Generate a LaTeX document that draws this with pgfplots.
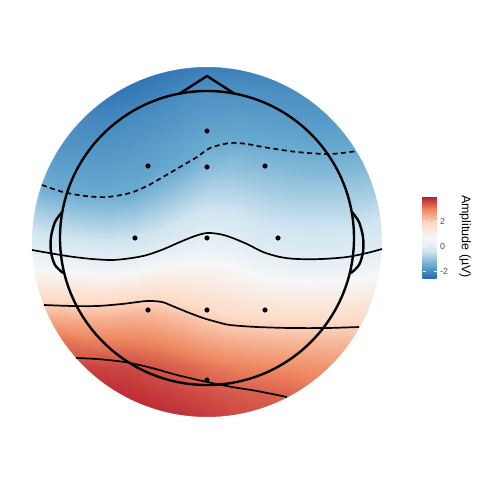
\documentclass[border=0pt]{standalone}
\usepackage{fontspec}
\setmainfont{Liberation Sans}
\usepackage{pgfplots}
\pgfplotsset{compat=1.18}
\begin{document}
\begin{tikzpicture}
\begin{axis}[name=main, at={(0,0)}, anchor=south west, scale only axis,
  width=350pt, height=350pt, xmin=-175, xmax=175, ymin=-175, ymax=175,
  hide axis, clip=true,
  colormap={rdbu}{rgb255=(33,102,172) rgb255=(103,169,207) rgb255=(209,229,240) rgb255=(247,247,247) rgb255=(253,219,199) rgb255=(239,138,98) rgb255=(178,24,43)},
  point meta min=-2.64, point meta max=4.0,
  colorbar,
  colorbar style={at={(parent axis.south east)}, anchor=south west, xshift=32pt, yshift=138pt,
    scale only axis, width=14pt, height=83pt,
    ytick={-2,0,2}, ytick pos=both, yticklabel pos=right, tick align=inside,
    major tick length=3pt, tick style={draw=white, line width=0.7pt},
    axis line style={draw=none},
    yticklabel style={font=\fontsize{8.8}{10}\selectfont, text=black!70},
    /pgf/number format/assume math mode=true},
]
\addplot[surf, shader=interp, mesh/cols=15, point meta=explicit] table[row sep=\\, x=x, y=y, meta=v] {
x y v\\
-175 175 -2.50\\ -150 175 -2.55\\ -125 175 -2.55\\ -100 175 -2.55\\ -75 175 -2.50\\ -50 175 -2.42\\ -25 175 -2.32\\ 0 175 -2.22\\ 25 175 -2.22\\ 50 175 -2.23\\ 75 175 -2.24\\ 100 175 -2.25\\ 125 175 -2.25\\ 150 175 -2.25\\ 175 175 -2.25\\
-175 150 -2.30\\ -150 150 -2.38\\ -125 150 -2.40\\ -100 150 -2.38\\ -75 150 -2.30\\ -50 150 -2.18\\ -25 150 -2.04\\ 0 150 -1.92\\ 25 150 -1.92\\ 50 150 -1.93\\ 75 150 -1.96\\ 100 150 -2.00\\ 125 150 -2.00\\ 150 150 -2.00\\ 175 150 -2.00\\
-175 125 -2.01\\ -150 125 -2.08\\ -125 125 -2.10\\ -100 125 -2.09\\ -75 125 -2.03\\ -50 125 -1.94\\ -25 125 -1.84\\ 0 125 -1.74\\ 25 125 -1.72\\ 50 125 -1.73\\ 75 125 -1.76\\ 100 125 -1.80\\ 125 125 -1.80\\ 150 125 -1.79\\ 175 125 -1.79\\
-175 100 -1.81\\ -150 100 -1.88\\ -125 100 -1.91\\ -100 100 -1.91\\ -75 100 -1.85\\ -50 100 -1.75\\ -25 100 -1.65\\ 0 100 -1.54\\ 25 100 -1.50\\ 50 100 -1.53\\ 75 100 -1.56\\ 100 100 -1.59\\ 125 100 -1.60\\ 150 100 -1.59\\ 175 100 -1.58\\
-175 75 -1.61\\ -150 75 -1.68\\ -125 75 -1.71\\ -100 75 -1.72\\ -75 75 -1.68\\ -50 75 -1.60\\ -25 75 -1.48\\ 0 75 -1.19\\ 25 75 -1.12\\ 50 75 -1.19\\ 75 75 -1.26\\ 100 75 -1.31\\ 125 75 -1.31\\ 150 75 -1.28\\ 175 75 -1.23\\
-175 50 -1.28\\ -150 50 -1.46\\ -125 50 -1.53\\ -100 50 -1.54\\ -75 50 -1.50\\ -50 50 -1.27\\ -25 50 -0.98\\ 0 50 -0.74\\ 25 50 -0.73\\ 50 50 -0.83\\ 75 50 -0.91\\ 100 50 -0.95\\ 125 50 -0.95\\ 150 50 -0.92\\ 175 50 -0.86\\
-175 25 -0.73\\ -150 25 -0.86\\ -125 25 -0.96\\ -100 25 -1.01\\ -75 25 -0.93\\ -50 25 -0.73\\ -25 25 -0.48\\ 0 25 -0.29\\ 25 25 -0.33\\ 50 25 -0.47\\ 75 25 -0.56\\ 100 25 -0.59\\ 125 25 -0.59\\ 150 25 -0.56\\ 175 25 -0.48\\
-175 0 -0.18\\ -150 0 -0.26\\ -125 0 -0.35\\ -100 0 -0.41\\ -75 0 -0.36\\ -50 0 -0.20\\ -25 0 0.03\\ 0 0 0.21\\ 25 0 0.09\\ 50 0 -0.11\\ 75 0 -0.20\\ 100 0 -0.24\\ 125 0 -0.23\\ 150 0 -0.20\\ 175 0 -0.11\\
-175 -25 0.62\\ -150 -25 0.54\\ -125 -25 0.44\\ -100 -25 0.35\\ -75 -25 0.41\\ -50 -25 0.63\\ -25 -25 0.75\\ 0 -25 0.79\\ 25 -25 0.67\\ 50 -25 0.46\\ 75 -25 0.31\\ 100 -25 0.23\\ 125 -25 0.26\\ 150 -25 0.31\\ 175 -25 0.47\\
-175 -50 1.53\\ -150 -50 1.50\\ -125 -50 1.44\\ -100 -50 1.43\\ -75 -50 1.55\\ -50 -50 1.61\\ -25 -50 1.48\\ 0 -50 1.37\\ 25 -50 1.24\\ 50 -50 1.10\\ 75 -50 1.00\\ 100 -50 0.96\\ 125 -50 0.97\\ 150 -50 1.01\\ 175 -50 1.12\\
-175 -75 2.43\\ -150 -75 2.38\\ -125 -75 2.32\\ -100 -75 2.32\\ -75 -75 2.37\\ -50 -75 2.34\\ -25 -75 2.16\\ 0 -75 1.95\\ 25 -75 1.82\\ 50 -75 1.74\\ 75 -75 1.69\\ 100 -75 1.68\\ 125 -75 1.69\\ 150 -75 1.72\\ 175 -75 1.77\\
-175 -100 3.32\\ -150 -100 3.18\\ -125 -100 3.04\\ -100 -100 2.99\\ -75 -100 2.98\\ -50 -100 2.90\\ -25 -100 2.74\\ 0 -100 2.56\\ 25 -100 2.42\\ 50 -100 2.35\\ 75 -100 2.31\\ 100 -100 2.29\\ 125 -100 2.27\\ 150 -100 2.27\\ 175 -100 2.27\\
-175 -125 3.70\\ -150 -125 3.65\\ -125 -125 3.59\\ -100 -125 3.56\\ -75 -125 3.52\\ -50 -125 3.42\\ -25 -125 3.28\\ 0 -125 3.12\\ 25 -125 3.00\\ 50 -125 2.92\\ 75 -125 2.85\\ 100 -125 2.79\\ 125 -125 2.74\\ 150 -125 2.70\\ 175 -125 2.68\\
-175 -150 3.95\\ -150 -150 3.90\\ -125 -150 3.84\\ -100 -150 3.80\\ -75 -150 3.74\\ -50 -150 3.65\\ -25 -150 3.55\\ 0 -150 3.45\\ 25 -150 3.35\\ 50 -150 3.30\\ 75 -150 3.25\\ 100 -150 3.15\\ 125 -150 3.08\\ 150 -150 3.00\\ 175 -150 2.97\\
-175 -175 4.00\\ -150 -175 4.00\\ -125 -175 4.00\\ -100 -175 3.98\\ -75 -175 3.92\\ -50 -175 3.85\\ -25 -175 3.75\\ 0 -175 3.65\\ 25 -175 3.55\\ 50 -175 3.45\\ 75 -175 3.40\\ 100 -175 3.35\\ 125 -175 3.30\\ 150 -175 3.25\\ 175 -175 3.20\\
};
\fill[white, even odd rule] (axis cs:-200,-200) rectangle (axis cs:200,200) (axis cs:0,0) circle[radius=175];
% contour lines
\addplot[black, line width=1.7pt, dash pattern=on 5pt off 3.5pt, smooth] coordinates {
(-165,57) (-144,50) (-122,46) (-100,45) (-77,49) (-60,56) (-44,65) (-27,75) (-10,85) (3,94) (23,99) (40,98) (56,95) (90,90) (123,88) (150,91)};
\addplot[black, line width=1.7pt, smooth] coordinates {
(-175,-8) (-140,-14) (-115,-17) (-94,-18) (-75,-16) (-60,-13) (-43,-7) (-27,0) (-12,6) (0,9) (12,8) (23,5) (40,-2) (56,-10) (73,-15) (90,-17) (115,-17) (140,-15) (160,-11) (175,-7)};
\addplot[black, line width=1.7pt, smooth] coordinates {
(-163,-63) (-135,-64) (-110,-64) (-85,-62) (-60,-59) (-45,-60) (-37,-63) (-20,-70) (-4,-76) (10,-80) (23,-83) (50,-85) (83,-86) (120,-86) (152,-85)};
\addplot[black, line width=1.7pt, smooth] coordinates {
(-131,-116) (-110,-117) (-90,-119) (-77,-121) (-55,-126) (-30,-133) (0,-140) (25,-145) (50,-149) (80,-155)};
% head outline
\draw[black, line width=2.4pt] (axis cs:0,4) circle[radius=147];
\addplot[black, line width=2.4pt, line join=miter] coordinates {(-28,148) (0,166) (28,148)};
\addplot[black, line width=2.4pt, smooth] coordinates {(-145,30) (-152,20) (-156,5) (-156,-10) (-152,-23) (-144,-31)};
\addplot[black, line width=2.4pt, smooth] coordinates {(145,30) (152,20) (156,5) (156,-10) (152,-23) (144,-31)};
% electrodes
\addplot[only marks, mark=*, mark size=2.3pt, black] coordinates {
(0,111) (-59,76) (0,75) (58,76) (-72,4) (0,4) (71,4) (-59,-68) (0,-68) (58,-68) (0,-138)};
\end{axis}
\node[rotate=-90, anchor=west, inner sep=0pt, font=\fontsize{12.5}{14}\selectfont] at ([xshift=433pt,yshift=222pt]main.south west) {Amplitude (µV)};
\pgfresetboundingbox
\path ([xshift=-32pt,yshift=-63pt]main.south west) rectangle ([xshift=448pt,yshift=417pt]main.south west);
\end{tikzpicture}
\end{document}
